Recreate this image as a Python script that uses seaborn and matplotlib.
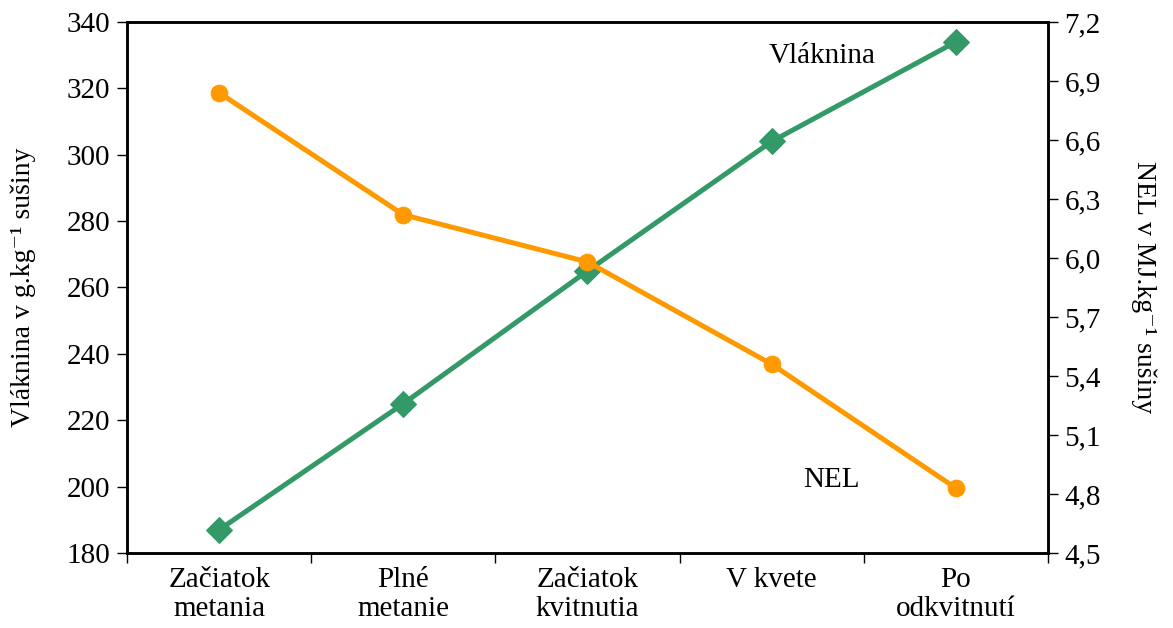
# -*- coding: utf-8 -*-
"""
plot.py
Fiber (Vláknina) and NEL by growth stage, two y axes.
"""
import numpy as np
import pandas as pd
import matplotlib
matplotlib.use("Agg")
import matplotlib.pyplot as plt
from matplotlib.ticker import FuncFormatter, FixedLocator
import seaborn as sns

stages = ["Začiatok\nmetania", "Plné\nmetanie", "Začiatok\nkvitnutia", "V kvete", "Po\nodkvitnutí"]
vlaknina = [187, 225, 265, 304, 334]
nel = [6.84, 6.22, 5.98, 5.46, 4.83]

GREEN = "#339966"
ORANGE = "#FF9900"
FS = 21

sns.set_style("ticks", {"text.color": "black", "axes.labelcolor": "black",
                        "xtick.color": "black", "ytick.color": "black"})
plt.rcParams["font.family"] = ["Liberation Serif", "DejaVu Serif"]
plt.rcParams["font.size"] = FS

df = pd.DataFrame({"pos": np.arange(len(stages)), "vlaknina": vlaknina, "nel": nel})

fig = plt.figure(figsize=(11.73, 6.28), dpi=100)
ax = fig.add_axes([0.1083, 0.1194, 0.7851, 0.8456])
ax2 = ax.twinx()

sns.lineplot(data=df, x="pos", y="vlaknina", ax=ax, color=GREEN, lw=3.6,
             marker="D", markersize=13, markeredgecolor=GREEN)
sns.lineplot(data=df, x="pos", y="nel", ax=ax2, color=ORANGE, lw=3.6,
             marker="o", markersize=12, markeredgecolor=ORANGE)

ax.set_xlim(-0.5, len(stages) - 0.5)
ax.set_ylim(180, 340)
ax.set_yticks(np.arange(180, 341, 20))
ax2.set_ylim(4.5, 7.2)
ax2.set_yticks(np.arange(4.5, 7.21, 0.3))
ax2.yaxis.set_major_formatter(FuncFormatter(lambda v, p: f"{v:.1f}".replace(".", ",")))

# category boundaries as ticks, labels centred between them
ax.xaxis.set_major_locator(FixedLocator(np.arange(-0.5, len(stages), 1.0)))
ax.set_xticklabels([])
ax.set_xticks(np.arange(len(stages)), minor=True)
ax.set_xticklabels(stages, minor=True, fontsize=FS, linespacing=1.15)
ax.tick_params(axis="x", which="minor", length=0, pad=10)
ax.tick_params(axis="x", which="major", length=7, width=1, direction="out")
ax.tick_params(axis="y", length=7, width=1, direction="out", labelsize=FS, pad=5)
ax2.tick_params(axis="y", length=7, width=1, direction="out", labelsize=FS, pad=5)

ax.set_xlabel("")
ax.set_ylabel("Vláknina v g.kg\u207b\u00b9 sušiny", fontsize=20, labelpad=22)
ax2.set_ylabel("NEL v MJ.kg\u207b\u00b9 sušiny", fontsize=20, rotation=270, labelpad=40)

for a in (ax, ax2):
    for s in a.spines.values():
        s.set_visible(True)
        s.set_color("black")
        s.set_linewidth(1.8)

ax.text(0.697, 0.935, "Vláknina", transform=ax.transAxes, fontsize=FS, ha="left", va="center")
ax.text(0.734, 0.137, "NEL", transform=ax.transAxes, fontsize=FS, ha="left", va="center")

fig.savefig("out.png", dpi=100)
plt.close(fig)
